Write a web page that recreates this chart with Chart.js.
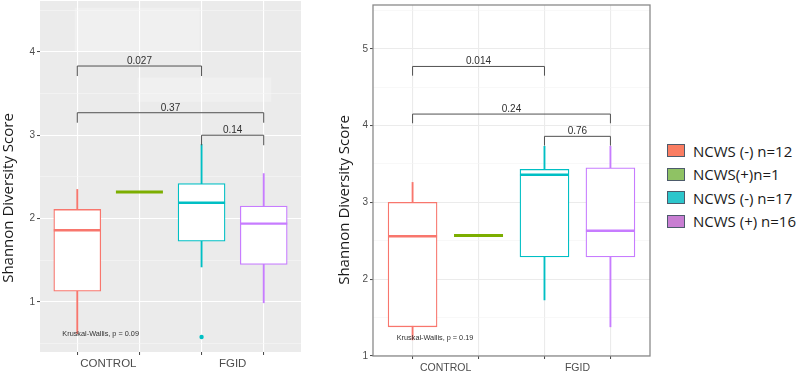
<!DOCTYPE html>
<html>
<head>
<meta charset="utf-8">
<script src="https://cdn.jsdelivr.net/npm/chart.js@4.4.1/dist/chart.umd.min.js"></script>
<style>
  body { margin: 0; width: 800px; height: 371px; background: #fff; position: relative; overflow: hidden; }
  canvas { position: absolute; top: 0; }
  #leftChart { left: 0; top: -3px; }
  #rightChart { left: 300px; }
  #legend { position: absolute; left: 667px; top: 139px; font-family: 'Open Sans', sans-serif; font-size: 15px; color: #1a1a1a; }
  .item { display: flex; align-items: center; height: 23.5px; white-space: nowrap; }
  .swatch { width: 18px; height: 13px; border: 1px solid #4d5b6b; box-sizing: border-box; margin-right: 8px; }
</style>
</head>
<body>
<canvas id="leftChart" width="305" height="374"></canvas>
<canvas id="rightChart" width="355" height="371"></canvas>
<div id="legend"></div>
<script>
// groups, x positions 1..4
const groupNames = ['NCWS (-) n=12', 'NCWS(+)n=1', 'NCWS (-) n=17', 'NCWS (+) n=16'];
const groupPos = [1, 2, 3, 4];
const boxColors = ['#F8766D', '#7CAE00', '#00BFC4', '#C77CFF'];
const legendColors = ['#FA7D62', '#8FC264', '#2CC6CC', '#C87ED2'];
const xLabels = ['CONTROL', 'FGID'];
const xLabelPos = [1.5, 3.5];
const yTitle = 'Shannon Diversity Score';

// left panel (grey theme)
const leftLow = [0.62, null, 1.42, 0.99];
const leftQ1 = [1.13, null, 1.73, 1.45];
const leftMed = [1.86, 2.32, 2.19, 1.94];
const leftQ3 = [2.11, null, 2.42, 2.15];
const leftHigh = [2.35, null, 2.89, 2.54];
const leftOutliers = [{x: 3, y: 0.58}];
const leftBracketFrom = [1, 1, 3];
const leftBracketTo = [3, 4, 4];
const leftBracketY = [3.83, 3.27, 3.0];
const leftPValues = ['0.027', '0.37', '0.14'];
const leftKW = 'Kruskal-Wallis, p = 0.09';

// right panel (bw theme)
const rightLow = [1.21, null, 1.73, 1.38];
const rightQ1 = [1.38, null, 2.29, 2.29];
const rightMed = [2.56, 2.57, 3.36, 2.63];
const rightQ3 = [3.00, null, 3.43, 3.45];
const rightHigh = [3.26, null, 3.73, 3.73];
const rightOutliers = [];
const rightBracketFrom = [1, 1, 3];
const rightBracketTo = [3, 4, 4];
const rightBracketY = [4.77, 4.15, 3.86];
const rightPValues = ['0.014', '0.24', '0.76'];
const rightKW = 'Kruskal-Wallis, p = 0.19';

const colorOf = ctx => ctx.raw ? boxColors[ctx.raw.x - 1] : '#000';

const boxExtras = {
  id: 'boxExtras',
  beforeDraw(chart, args, o) {
    const {ctx, chartArea: a, scales: {x, y}} = chart;
    ctx.save();
    ctx.fillStyle = o.panelBg;
    ctx.fillRect(a.left, a.top, a.right - a.left, a.bottom - a.top);
    // faint lighter patches seen behind the upper labels
    (o.patches || []).forEach(p => {
      ctx.fillStyle = '#f0f0f0';
      const x0 = x.getPixelForValue(p[0]), x1 = x.getPixelForValue(p[1]);
      const y0 = y.getPixelForValue(p[3]), y1 = y.getPixelForValue(p[2]);
      ctx.fillRect(x0, y0, x1 - x0, y1 - y0);
    });
    ctx.restore();
  },
  afterDatasetsDraw(chart, args, o) {
    const {ctx, chartArea: a, scales: {x, y}} = chart;
    ctx.save();
    // medians
    o.med.forEach((m, i) => {
      if (m == null) return;
      const cx = x.getPixelForValue(groupPos[i]);
      const py = y.getPixelForValue(m);
      ctx.strokeStyle = boxColors[i];
      ctx.lineWidth = o.q1[i] == null ? 3 : 2.4;
      ctx.beginPath();
      ctx.moveTo(cx - o.boxWidth / 2, py);
      ctx.lineTo(cx + o.boxWidth / 2, py);
      ctx.stroke();
    });
    // comparison brackets
    ctx.strokeStyle = '#505050';
    ctx.lineWidth = 1;
    ctx.fillStyle = '#303030';
    ctx.font = '10px "Liberation Sans", Arial, sans-serif';
    ctx.textAlign = 'center';
    ctx.textBaseline = 'alphabetic';
    o.from.forEach((f, i) => {
      const x1 = x.getPixelForValue(f), x2 = x.getPixelForValue(o.to[i]);
      const py = y.getPixelForValue(o.by[i]);
      const tip = y.getPixelForValue(o.by[i] - 0.12);
      ctx.beginPath();
      ctx.moveTo(x1, tip);
      ctx.lineTo(x1, py);
      ctx.lineTo(x2, py);
      ctx.lineTo(x2, tip);
      ctx.stroke();
      ctx.fillText(o.labels[i], (x1 + x2) / 2, py - 2);
    });
    // Kruskal-Wallis label
    ctx.font = '7.3px "Liberation Sans", Arial, sans-serif';
    ctx.textAlign = 'left';
    ctx.textBaseline = 'middle';
    ctx.fillText(o.kw, x.getPixelForValue(0.76), y.getPixelForValue(o.kwY));
    if (o.frame) {
      ctx.strokeStyle = '#8a8a8a';
      ctx.lineWidth = 1.3;
      ctx.strokeRect(a.left, a.top, a.right - a.left, a.bottom - a.top);
    }
    // y axis title, sits a bit below the panel centre like the original
    ctx.fillStyle = '#1a1a1a';
    ctx.font = '15px "Open Sans", sans-serif';
    ctx.textAlign = 'center';
    ctx.textBaseline = 'middle';
    ctx.translate(o.titleAt[0], o.titleAt[1]);
    ctx.rotate(-Math.PI / 2);
    ctx.fillText(yTitle, 0, 0);
    ctx.restore();
  }
};

function makeBoxChart(id, s) {
  const idx = groupPos.map((p, i) => i).filter(i => s.q1[i] != null);
  const isInt = v => Math.abs(v - Math.round(v)) < 1e-9;
  new Chart(document.getElementById(id), {
    type: 'bar',
    data: {
      datasets: [
        {
          label: 'box', order: 1, grouped: false,
          data: idx.map(i => ({x: groupPos[i], y: [s.q1[i], s.q3[i]]})),
          backgroundColor: '#ffffff',
          borderColor: colorOf,
          borderWidth: 1.3, borderSkipped: false,
          barThickness: s.boxWidth
        },
        {
          label: 'whisker', order: 2, grouped: false,
          data: idx.map(i => ({x: groupPos[i], y: [s.low[i], s.high[i]]})),
          backgroundColor: colorOf,
          borderWidth: 0,
          barThickness: 1.2
        },
        {
          type: 'scatter', label: 'outlier', order: 0,
          data: s.outliers,
          backgroundColor: colorOf,
          pointRadius: 2.2, borderWidth: 0
        }
      ]
    },
    options: {
      responsive: false,
      animation: false,
      layout: {padding: s.padding},
      plugins: {
        legend: {display: false},
        tooltip: {enabled: false},
        boxExtras: {
          panelBg: s.panelBg, patches: s.patches, frame: s.frame,
          med: s.med, q1: s.q1, boxWidth: s.boxWidth,
          from: s.from, to: s.to, by: s.by, labels: s.labels,
          kw: s.kw, kwY: s.kwY, titleAt: s.titleAt
        }
      },
      scales: {
        x: {
          type: 'linear', min: 0.4, max: 4.6, offset: false,
          afterBuildTicks: ax => {
            ax.ticks = groupPos.concat(xLabelPos).sort().map(v => ({value: v}));
          },
          afterFit: ax => {
            ax.height = s.xAxisHeight;
            ax.paddingLeft = 0; ax.paddingRight = 0;
          },
          border: {display: false},
          grid: {
            offset: false,
            color: c => c.tick && isInt(c.tick.value) ? s.gridMajor : 'transparent',
            lineWidth: 1.1,
            tickColor: c => c.tick && isInt(c.tick.value) ? '#444' : 'transparent',
            tickLength: 3, tickWidth: 1
          },
          ticks: {
            autoSkip: false, maxRotation: 0, padding: s.xPad,
            color: '#4d4d4d',
            font: {family: '"Liberation Sans", Arial, sans-serif', size: s.xFont},
            callback: v => {
              const k = xLabelPos.indexOf(v);
              return k >= 0 ? xLabels[k] : '';
            }
          }
        },
        y: {
          type: 'linear', min: s.yMin, max: s.yMax,
          afterBuildTicks: ax => {
            const t = [];
            for (let v = Math.ceil(s.yMin * 2) / 2; v <= s.yMax + 1e-9; v += 0.5) t.push({value: v});
            ax.ticks = t;
          },
          afterFit: ax => {
            ax.width = s.yAxisWidth;
            ax.paddingTop = 0; ax.paddingBottom = 0;
          },
          border: {display: false},
          grid: {
            color: c => c.tick && isInt(c.tick.value) ? s.gridMajor : s.gridMinor,
            lineWidth: c => c.tick && isInt(c.tick.value) ? 1.1 : 0.6,
            tickColor: c => c.tick && isInt(c.tick.value) ? '#444' : 'transparent',
            tickLength: 3, tickWidth: 1
          },
          ticks: {
            padding: 2, color: '#4d4d4d',
            font: {family: '"Liberation Sans", Arial, sans-serif', size: 10},
            callback: v => isInt(v) ? String(Math.round(v)) : ''
          },
          title: {display: false}
        }
      }
    },
    plugins: [boxExtras]
  });
}

makeBoxChart('leftChart', {
  low: leftLow, q1: leftQ1, med: leftMed, q3: leftQ3, high: leftHigh, outliers: leftOutliers,
  from: leftBracketFrom, to: leftBracketTo, by: leftBracketY, labels: leftPValues,
  kw: leftKW, kwY: 0.62,
  yMin: 0.4, yMax: 4.61, boxWidth: 47,
  panelBg: '#EBEBEB', gridMajor: '#ffffff', gridMinor: '#f6f6f6', frame: false,
  patches: [[0.96, 2.97, 4.01, 4.53], [1.97, 4.12, 3.40, 3.69]],
  padding: {top: 0, right: 3, left: 0, bottom: 0},
  yAxisWidth: 40, xAxisHeight: 19, xPad: 2, xFont: 11.5, titleAt: [9, 201]
});

makeBoxChart('rightChart', {
  low: rightLow, q1: rightQ1, med: rightMed, q3: rightQ3, high: rightHigh, outliers: rightOutliers,
  from: rightBracketFrom, to: rightBracketTo, by: rightBracketY, labels: rightPValues,
  kw: rightKW, kwY: 1.23,
  yMin: 1, yMax: 5.57, boxWidth: 49,
  panelBg: '#ffffff', gridMajor: '#ebebeb', gridMinor: '#f4f4f4', frame: true,
  patches: [],
  padding: {top: 5, right: 5, left: 0, bottom: 0},
  yAxisWidth: 73, xAxisHeight: 15, xPad: 3, xFont: 10.5, titleAt: [45, 200]
});

// legend as html text
const legend = document.getElementById('legend');
groupNames.forEach((name, i) => {
  const row = document.createElement('div');
  row.className = 'item';
  row.innerHTML = '<span class="swatch" style="background:' + legendColors[i] + '"></span><span>' + name + '</span>';
  legend.appendChild(row);
});
</script>
</body>
</html>
